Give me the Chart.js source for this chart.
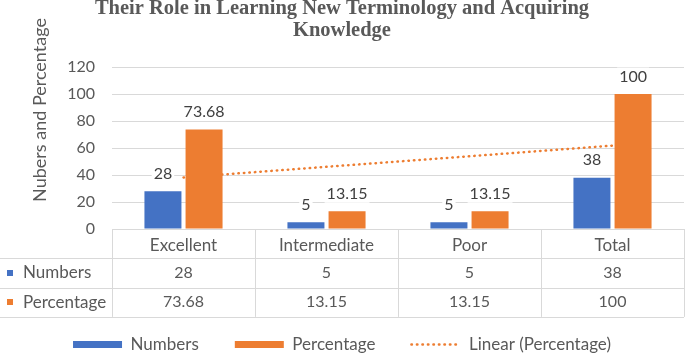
<!DOCTYPE html>
<html>
<head>
<meta charset="utf-8">
<script src="https://cdn.jsdelivr.net/npm/chart.js@4.4.1/dist/chart.umd.min.js"></script>
<style>
  html, body { margin: 0; padding: 0; background: #fff; }
</style>
</head>
<body>
<canvas id="chart" width="685" height="354"></canvas>
<script>
const categories = ['Excellent', 'Intermediate', 'Poor', 'Total'];
const numbers = [28, 5, 5, 38];
const percentage = [73.68, 13.15, 13.15, 100];
const numbersText = ['28', '5', '5', '38'];
const percentageText = ['73.68', '13.15', '13.15', '100'];
// dotted linear trendline of Percentage
const trendline = [38.2, 46.1, 53.9, 61.8];
const yTicks = [0, 20, 40, 60, 80, 100, 120];

const BLUE = '#4472C4';
const ORANGE = '#ED7D31';
const TEXT = '#595959';
const GRID = '#D9D9D9';
const FONT = 'Lato';

// value labels above the bars, on a white patch like Excel's
const barLabels = {
  id: 'barLabels',
  afterDatasetsDraw(chart) {
    const ctx = chart.ctx;
    ctx.save();
    ctx.font = '16px ' + FONT;
    ctx.textAlign = 'center';
    ctx.textBaseline = 'middle';
    [[0, numbersText], [1, percentageText]].forEach(([di, texts]) => {
      chart.getDatasetMeta(di).data.forEach((bar, i) => {
        const y = bar.y - 17.5;
        const w = ctx.measureText(texts[i]).width;
        ctx.fillStyle = '#fff';
        ctx.fillRect(bar.x - w / 2 - 2, y - 9, w + 4, 18);
        ctx.fillStyle = '#404040';
        ctx.fillText(texts[i], bar.x, y);
      });
    });
    ctx.restore();
  }
};

// data table under the plot + rotated y title
const dataTable = {
  id: 'dataTable',
  afterDraw(chart) {
    const { ctx, chartArea } = chart;
    const x = chart.scales.x;
    const top = chartArea.bottom;
    const rowH = 29.3;
    const colW = x.width / categories.length;
    ctx.save();
    ctx.strokeStyle = GRID;
    ctx.lineWidth = 1;
    ctx.beginPath();
    for (let r = 1; r <= 3; r++) {
      const y = Math.round(top + r * rowH) + 0.5;
      ctx.moveTo(0, y);
      ctx.lineTo(x.right, y);
    }
    for (let c = 0; c <= categories.length; c++) {
      const cx = Math.round(x.left + c * colW) + 0.5;
      ctx.moveTo(cx, top);
      ctx.lineTo(cx, top + 3 * rowH);
    }
    ctx.stroke();

    ctx.textBaseline = 'middle';
    const rows = [['Numbers', BLUE, numbersText], ['Percentage', ORANGE, percentageText]];
    rows.forEach(([name, color, texts], r) => {
      const cy = top + (r + 1.5) * rowH;
      ctx.fillStyle = color;
      ctx.fillRect(7, Math.round(cy - 3), 6, 6);
      ctx.fillStyle = TEXT;
      ctx.font = '17px ' + FONT;
      ctx.textAlign = 'left';
      ctx.fillText(name, 23, cy);
      ctx.font = '16px ' + FONT;
      ctx.textAlign = 'center';
      texts.forEach((t, i) => ctx.fillText(t, x.getPixelForValue(i), cy));
    });

    ctx.translate(40, 110);
    ctx.rotate(-Math.PI / 2);
    ctx.font = '18px ' + FONT;
    ctx.textAlign = 'center';
    ctx.fillStyle = TEXT;
    ctx.fillText('Nubers and Percentage', 0, 0);
    ctx.restore();
  }
};

new Chart(document.getElementById('chart'), {
  type: 'bar',
  data: {
    labels: categories,
    datasets: [
      {
        label: 'Numbers',
        data: numbers,
        backgroundColor: BLUE,
        barPercentage: 0.9,
        categoryPercentage: 0.575,
        order: 0
      },
      {
        label: 'Percentage',
        data: percentage,
        backgroundColor: ORANGE,
        barPercentage: 0.9,
        categoryPercentage: 0.575,
        order: 0
      },
      {
        type: 'line',
        label: 'Linear (Percentage)',
        data: trendline,
        borderColor: ORANGE,
        borderWidth: 2.5,
        borderDash: [0.5, 5],
        borderCapStyle: 'round',
        pointRadius: 0,
        fill: false,
        order: 1
      }
    ]
  },
  options: {
    responsive: false,
    animation: false,
    devicePixelRatio: 1,
    events: [],
    layout: { padding: { left: 0, right: 1, top: 0, bottom: -9 } },
    plugins: {
      tooltip: { enabled: false },
      title: {
        display: true,
        text: ['Their Role in Learning New Terminology and Acquiring', 'Knowledge'],
        color: TEXT,
        font: { family: 'Liberation Serif', size: 20.5, weight: 'bold', lineHeight: 1.05 },
        padding: { top: -2, bottom: 26 }
      },
      legend: {
        position: 'bottom',
        labels: {
          color: TEXT,
          font: { family: FONT, size: 17 },
          usePointStyle: true,
          pointStyleWidth: 49,
          boxHeight: 7,
          padding: 36,
          generateLabels: () => [
            { text: 'Numbers', fillStyle: BLUE, strokeStyle: BLUE, lineWidth: 0, pointStyle: 'rect', fontColor: TEXT, datasetIndex: 0 },
            { text: 'Percentage', fillStyle: ORANGE, strokeStyle: ORANGE, lineWidth: 0, pointStyle: 'rect', fontColor: TEXT, datasetIndex: 1 },
            { text: 'Linear (Percentage)', fillStyle: 'rgba(0,0,0,0)', strokeStyle: ORANGE, lineWidth: 2.5,
              lineDash: [0.5, 5], lineCap: 'round', pointStyle: 'line', fontColor: TEXT, datasetIndex: 2 }
          ]
        }
      }
    },
    scales: {
      x: {
        grid: { display: false, drawTicks: false },
        border: { display: false },
        ticks: { color: TEXT, font: { family: FONT, size: 17 }, padding: 6 },
        afterFit: (s) => { s.height = 71; }
      },
      y: {
        min: 0,
        max: 120,
        afterBuildTicks: (s) => { s.ticks = yTicks.map(v => ({ value: v })); },
        grid: { color: GRID, drawTicks: false },
        border: { display: false },
        ticks: { color: TEXT, font: { family: FONT, size: 16 }, padding: 17 },
        afterFit: (s) => { s.width = 112; }
      }
    }
  },
  plugins: [barLabels, dataTable]
});
</script>
</body>
</html>
